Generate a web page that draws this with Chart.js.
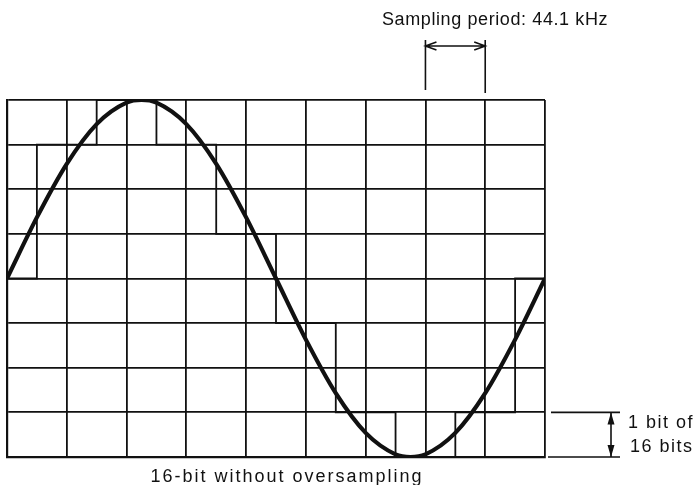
<!DOCTYPE html>
<html>
<head>
<meta charset="utf-8">
<script src="https://cdn.jsdelivr.net/npm/chart.js@4/dist/chart.umd.min.js"></script>
<style>
  body { margin: 0; background: #fff; }
  #wrap { width: 698px; height: 485px; position: relative; }
</style>
</head>
<body>
<div id="wrap"><canvas id="chart"></canvas></div>
<script>
// grid is 9 sample columns wide, 8 quantisation steps high
const COLS = 9;
const LEVELS = 8;

// analogue signal, read in grid units
const curveX = [0, 0.5, 1, 1.5, 2, 2.25, 2.5, 3, 3.5, 4, 4.5, 5, 5.5, 6, 6.5, 6.75, 7, 7.5, 8, 8.5, 9];
const curveY = [4.0, 5.37, 6.57, 7.46, 7.94, 8.0, 7.94, 7.46, 6.57, 5.37, 4.0, 2.63, 1.43, 0.54, 0.06, 0.0, 0.06, 0.54, 1.43, 2.63, 4.0];

// held / quantised output: level changes at each x
const stepX = [0, 0.5, 1.5, 2.5, 3.5, 4.5, 5.5, 6.5, 7.5, 8.5, 9];
const stepY = [4, 7, 8, 7, 5, 3, 1, 0, 1, 4, 4];

const title = 'Sampling period: 44.1 kHz';
const caption = '16-bit without oversampling';
const bitLabel = ['1 bit of', '16 bits'];

const INK = '#111';
const FONT = '18px "Liberation Sans", Arial, sans-serif';

const notes = {
  id: 'notes',
  afterDraw(chart) {
    const ctx = chart.ctx;
    const xs = chart.scales.x, ys = chart.scales.y;
    ctx.save();
    ctx.strokeStyle = INK;
    ctx.fillStyle = INK;
    ctx.lineWidth = 1.6;
    ctx.font = FONT;

    // sampling period marker over one column
    const x1 = xs.getPixelForValue(7), x2 = xs.getPixelForValue(8);
    const ay = 46;
    ctx.beginPath();
    ctx.moveTo(x1, 40); ctx.lineTo(x1, 90);
    ctx.moveTo(x2, 40); ctx.lineTo(x2, 93);
    ctx.moveTo(x1, ay); ctx.lineTo(x2, ay);
    ctx.moveTo(x1 + 11, ay - 4); ctx.lineTo(x1, ay); ctx.lineTo(x1 + 11, ay + 4);
    ctx.moveTo(x2 - 11, ay - 4); ctx.lineTo(x2, ay); ctx.lineTo(x2 - 11, ay + 4);
    ctx.stroke();

    ctx.letterSpacing = '0.6px';
    ctx.textAlign = 'left';
    ctx.textBaseline = 'alphabetic';
    ctx.fillText(title, 382, 25);

    // one quantisation step marker
    const y1 = ys.getPixelForValue(1), y0 = ys.getPixelForValue(0);
    const bx = 611;
    ctx.beginPath();
    ctx.moveTo(551, y1); ctx.lineTo(620, y1);
    ctx.moveTo(548, y0); ctx.lineTo(620, y0);
    ctx.moveTo(bx, y1); ctx.lineTo(bx, y0);
    ctx.stroke();
    ctx.beginPath();
    ctx.moveTo(bx, y1); ctx.lineTo(bx - 3.5, y1 + 12); ctx.lineTo(bx + 3.5, y1 + 12); ctx.closePath();
    ctx.moveTo(bx, y0); ctx.lineTo(bx - 3.5, y0 - 12); ctx.lineTo(bx + 3.5, y0 - 12); ctx.closePath();
    ctx.fill();

    ctx.letterSpacing = '1.5px';
    ctx.fillText(bitLabel[0], 628, 428);
    ctx.fillText(bitLabel[1], 630, 452);

    ctx.letterSpacing = '2px';
    ctx.textAlign = 'center';
    ctx.fillText(caption, 287, 482);
    ctx.restore();
  }
};

new Chart(document.getElementById('chart'), {
  type: 'line',
  data: {
    datasets: [
      {
        label: 'signal',
        data: curveX.map((x, i) => ({ x: x, y: curveY[i] })),
        borderColor: INK,
        borderWidth: 4.2,
        pointRadius: 0,
        cubicInterpolationMode: 'monotone',
        fill: false
      },
      {
        label: 'quantised',
        data: stepX.map((x, i) => ({ x: x, y: stepY[i] })),
        borderColor: INK,
        borderWidth: 1.8,
        pointRadius: 0,
        stepped: true,
        fill: false
      }
    ]
  },
  options: {
    responsive: true,
    maintainAspectRatio: false,
    animation: false,
    layout: { padding: { left: 7, right: 153, top: 100, bottom: 28 } },
    plugins: {
      legend: { display: false },
      tooltip: { enabled: false }
    },
    scales: {
      x: {
        type: 'linear',
        min: 0, max: COLS,
        ticks: { display: false, stepSize: 1 },
        grid: { color: INK, lineWidth: 1.8, drawTicks: false },
        border: { color: INK, width: 2.2 }
      },
      y: {
        min: 0, max: LEVELS,
        ticks: { display: false, stepSize: 1 },
        grid: { color: INK, lineWidth: 1.8, drawTicks: false },
        border: { color: INK, width: 2.2 }
      }
    }
  },
  plugins: [notes]
});
</script>
</body>
</html>
